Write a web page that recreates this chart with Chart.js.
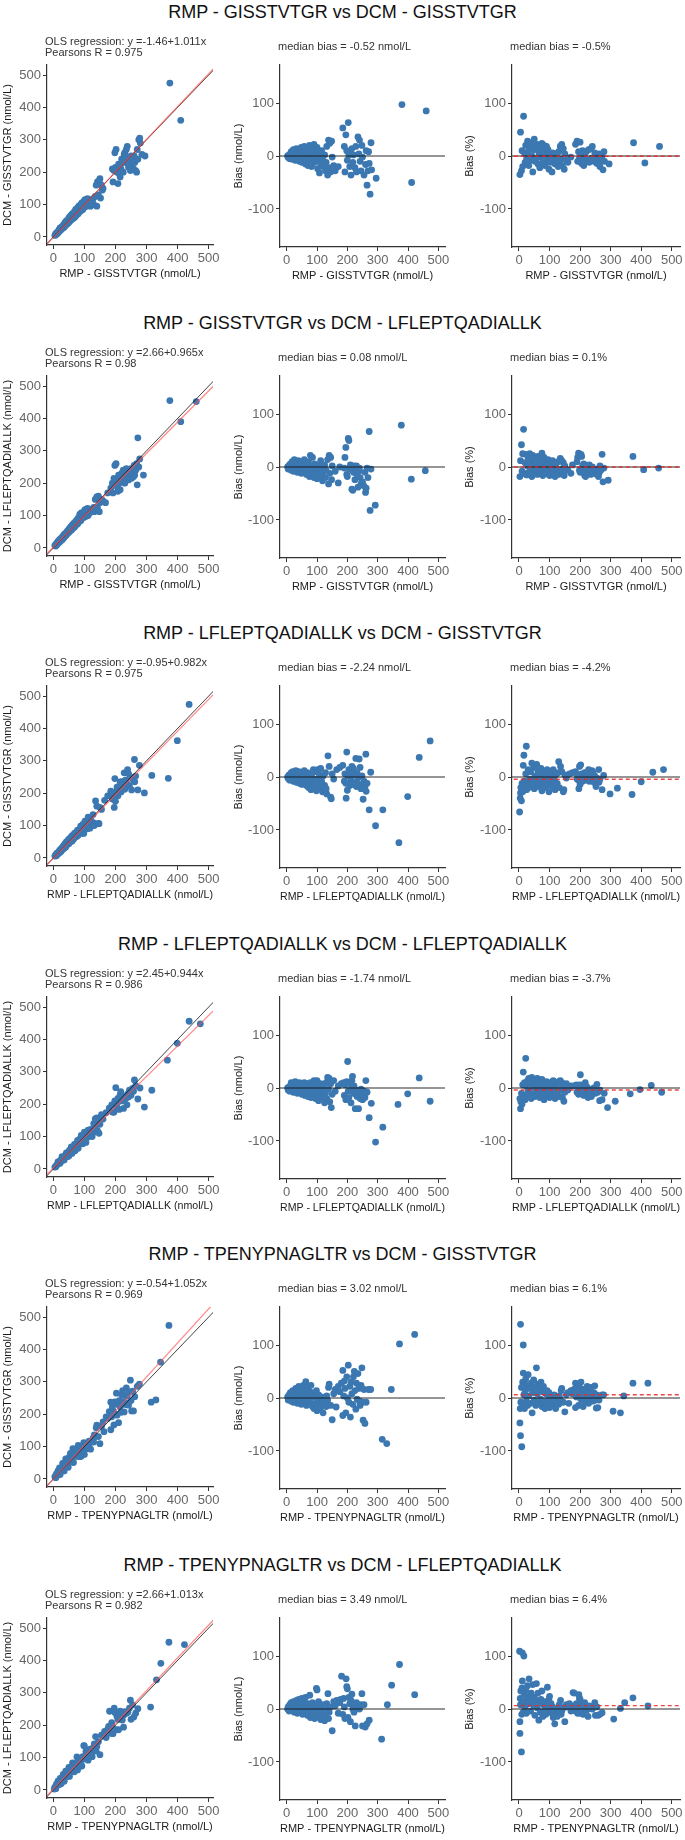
<!DOCTYPE html>
<html>
<head>
<meta charset="utf-8">
<script src="https://cdn.jsdelivr.net/npm/chart.js@4.4.0/dist/chart.umd.min.js"></script>
<style>
  body { margin: 0; background: #fff; width: 685px; height: 1840px; position: relative;
         font-family: "Liberation Sans", Arial, sans-serif; }
  .ttl { position: absolute; left: 0; width: 685px; text-align: center; font-size: 18px;
         line-height: 20px; color: #111; }
  canvas { position: absolute; }
</style>
</head>
<body>
<script>
// peptide names per row
const rmpNames = ['GISSTVTGR', 'GISSTVTGR', 'LFLEPTQADIALLK', 'LFLEPTQADIALLK', 'TPENYPNAGLTR', 'TPENYPNAGLTR'];
const dcmNames = ['GISSTVTGR', 'LFLEPTQADIALLK', 'GISSTVTGR', 'LFLEPTQADIALLK', 'GISSTVTGR', 'LFLEPTQADIALLK'];
const olsA = ['-1.46', '2.66', '-0.95', '2.45', '-0.54', '2.66'];
const olsB = ['1.011', '0.965', '0.982', '0.944', '1.052', '1.013'];
const pearsonR = ['0.975', '0.98', '0.975', '0.986', '0.969', '0.982'];
const medAbs = [-0.52, 0.08, -2.24, -1.74, 3.02, 3.49];
const medPct = [-0.5, 0.1, -4.2, -3.7, 6.1, 6.4];
const xTicks = [0, 100, 200, 300, 400, 500];
const compTicks = [0, 100, 200, 300, 400, 500];
const biasTicks = [-100, 0, 100];

// row 1
const r1Comp = [[5,5],[8,10],[10,8],[12,14],[15,12],[18,22],[20,18],[22,28],[25,22],[28,32],[30,27],[33,38],[35,30],[38,45],[40,36],[42,50],[45,40],[48,55],[50,45],[52,62],[55,50],[58,68],[60,55],[62,72],[65,58],[68,78],[70,62],[72,85],[75,68],[78,90],[80,72],[82,95],[85,78],[88,100],[90,82],[92,105],[95,85],[98,110],[100,92],[102,115],[105,95],[108,100],[110,118],[112,96],[115,105],[118,112],[120,95],[125,108],[128,118],[130,100],[135,125],[138,160],[140,95],[142,170],[145,130],[148,175],[150,180],[152,120],[155,160],[160,150],[158,145],[190,210],[192,170],[195,205],[198,260],[200,215],[202,270],[205,200],[208,165],[210,225],[212,195],[215,185],[218,210],[220,240],[222,230],[225,200],[228,255],[230,260],[232,230],[235,270],[238,280],[240,245],[242,215],[245,235],[248,205],[250,250],[252,225],[255,240],[258,210],[260,250],[262,230],[265,205],[268,200],[270,270],[272,240],[275,300],[278,305],[280,290],[285,255],[295,250],[375,475],[410,360]];
const r1Bias = [[3,0],[5,-3],[8,2],[10,-5],[12,4],[15,8],[18,-6],[20,3],[22,12],[25,-2],[28,-8],[30,6],[32,14],[35,-4],[38,2],[40,10],[42,-10],[45,5],[48,16],[50,-12],[52,0],[55,8],[58,18],[60,-6],[62,-15],[65,4],[68,12],[70,-18],[72,2],[75,20],[78,-8],[80,6],[82,-20],[85,14],[88,-4],[90,22],[92,-12],[95,8],[98,-2],[100,16],[102,-24],[105,-8],[108,-32],[110,4],[112,-14],[115,10],[118,-6],[120,-20],[125,2],[128,-28],[130,-12],[132,18],[135,-36],[138,30],[140,-22],[142,24],[145,-30],[148,28],[150,-2],[155,-18],[160,-28],[170,-20],[185,53],[190,18],[192,-30],[195,40],[198,10],[200,-8],[203,63],[205,2],[208,-20],[210,8],[212,-36],[215,14],[218,-12],[220,2],[225,-22],[228,18],[230,-30],[235,36],[238,4],[240,30],[242,-10],[245,-28],[248,20],[250,-2],[255,-36],[260,-16],[262,10],[265,-55],[268,-28],[270,8],[272,-14],[275,-72],[278,25],[280,-26],[295,-42],[380,97],[460,85],[412,-50]];
const r1Pct = [[3,-35],[5,45],[8,-28],[10,10],[12,-20],[15,75],[18,5],[20,-12],[22,20],[25,-5],[28,28],[30,8],[32,-18],[35,15],[38,-8],[40,25],[42,0],[45,-30],[48,12],[50,32],[52,-10],[55,18],[58,-4],[60,22],[62,-15],[65,6],[68,-22],[70,14],[72,-2],[75,24],[78,-12],[80,8],[82,20],[85,-18],[88,2],[90,18],[92,-8],[95,12],[98,-25],[100,4],[102,-12],[105,-2],[108,-30],[110,6],[112,-8],[115,2],[118,-15],[120,-4],[125,5],[128,-20],[130,8],[132,-12],[135,18],[138,-6],[140,22],[142,-18],[145,14],[148,-25],[150,4],[155,-8],[160,-12],[170,-2],[185,22],[190,28],[192,-10],[195,8],[198,-4],[200,26],[203,2],[205,-14],[208,10],[210,-6],[212,-18],[215,4],[218,-10],[220,8],[225,-8],[228,12],[230,-12],[235,14],[238,-4],[240,18],[242,-6],[245,-10],[248,6],[250,-2],[255,-14],[260,-6],[262,4],[265,-20],[268,-10],[270,2],[272,-5],[275,-26],[278,8],[280,-10],[295,-15],[375,25],[460,18],[412,-13]];

// row 2
const r2Comp = [[5,8],[8,6],[10,14],[12,10],[15,20],[18,16],[20,26],[22,20],[25,30],[28,25],[30,36],[33,30],[35,42],[38,36],[40,46],[42,40],[45,52],[48,46],[50,58],[52,50],[55,64],[58,55],[60,70],[62,60],[65,75],[68,64],[70,80],[72,70],[75,86],[78,74],[80,92],[82,80],[85,104],[88,84],[90,108],[92,90],[95,100],[98,112],[100,95],[102,118],[105,98],[108,104],[110,122],[112,100],[115,108],[118,114],[120,110],[125,120],[128,116],[130,125],[132,112],[135,150],[138,118],[140,158],[142,125],[145,160],[148,112],[150,140],[155,150],[160,145],[168,140],[175,170],[185,185],[190,200],[192,170],[195,215],[198,255],[200,210],[202,260],[205,190],[208,175],[210,225],[212,200],[215,180],[218,215],[220,230],[222,205],[225,240],[228,220],[230,200],[232,235],[235,245],[238,225],[240,215],[242,210],[245,225],[248,235],[250,245],[252,215],[255,230],[258,220],[260,255],[262,225],[265,240],[268,260],[270,195],[272,340],[275,250],[278,275],[290,225],[375,455],[410,390],[460,452]];
const r2Bias = [[3,0],[5,-4],[8,3],[10,-2],[12,6],[15,-6],[18,10],[20,2],[22,-8],[25,14],[28,4],[30,-4],[32,8],[35,-10],[38,12],[40,0],[42,-6],[45,6],[48,-12],[50,10],[52,2],[55,-8],[58,14],[60,-4],[62,8],[65,-14],[68,4],[70,-6],[72,10],[75,-18],[78,22],[80,2],[82,-10],[85,18],[88,-4],[90,-20],[92,6],[95,-12],[98,0],[100,-22],[105,-8],[108,4],[110,-16],[112,12],[115,-2],[118,-26],[120,-10],[125,4],[128,-20],[130,-6],[135,14],[138,-32],[140,22],[142,-12],[145,18],[148,-24],[150,2],[160,-8],[170,-30],[175,0],[190,-2],[192,18],[195,37],[198,-14],[200,-18],[203,54],[205,50],[208,-4],[210,4],[212,0],[215,-42],[218,-44],[220,-10],[222,2],[225,-24],[228,-4],[230,2],[232,-14],[235,-38],[238,-8],[240,-2],[242,-20],[245,-32],[250,-28],[255,-36],[258,-10],[260,-48],[262,-40],[265,-2],[268,-20],[272,67],[275,-82],[278,-4],[292,-72],[378,79],[411,-23],[457,-7]];
const r2Pct = [[3,-18],[5,12],[8,42],[10,-8],[12,25],[15,71],[18,-12],[20,8],[22,24],[25,-15],[28,2],[30,18],[32,-10],[35,25],[38,-4],[40,12],[42,-18],[45,22],[48,4],[50,-12],[52,16],[55,-6],[58,10],[60,-14],[62,20],[65,2],[68,-10],[70,14],[72,-4],[75,26],[78,-16],[80,6],[82,18],[85,-8],[88,10],[90,-12],[92,2],[95,14],[98,-6],[100,-16],[105,6],[108,-4],[110,12],[112,-10],[115,-2],[118,-18],[120,4],[125,-8],[128,10],[130,-14],[135,16],[138,-4],[140,12],[142,-8],[145,8],[148,-16],[150,2],[160,-6],[170,-12],[175,4],[190,10],[192,18],[195,26],[198,-6],[200,-10],[203,24],[205,20],[208,2],[210,-4],[212,6],[215,-16],[218,-18],[220,-6],[222,2],[225,-10],[228,-2],[230,4],[232,-8],[235,-14],[238,-4],[240,0],[242,-10],[245,-12],[250,-8],[255,-14],[258,-4],[260,-18],[262,-12],[265,2],[268,-6],[272,24],[275,-28],[278,-2],[292,-25],[373,20],[408,-5],[457,-2]];

// row 3
const r3Comp = [[5,6],[8,10],[10,7],[12,15],[15,12],[18,20],[20,16],[22,26],[25,20],[28,32],[30,26],[33,38],[35,30],[38,44],[40,34],[42,50],[45,42],[48,56],[50,44],[52,60],[55,50],[58,66],[60,52],[62,70],[65,58],[68,76],[70,64],[72,78],[75,66],[78,86],[80,70],[82,84],[85,78],[88,98],[90,76],[92,88],[95,104],[98,76],[100,94],[102,114],[105,92],[108,110],[110,90],[112,126],[115,106],[118,92],[120,120],[125,110],[128,134],[130,108],[132,100],[136,176],[140,160],[145,107],[147,106],[150,156],[155,150],[165,178],[175,192],[185,206],[190,182],[192,198],[195,183],[198,245],[200,175],[196,156],[202,204],[205,219],[208,192],[210,220],[212,206],[215,235],[218,204],[220,236],[222,226],[225,215],[228,263],[230,212],[232,240],[235,233],[239,273],[240,226],[242,260],[245,223],[248,250],[252,210],[255,247],[258,240],[261,304],[262,235],[265,253],[272,210],[277,286],[293,201],[317,255],[370,246],[399,362],[437,474]];
const r3Bias = [[3,0],[5,-3],[8,4],[10,-6],[12,2],[15,8],[18,-4],[20,10],[22,-8],[25,4],[28,-2],[30,12],[32,-10],[35,6],[38,-6],[40,10],[42,-12],[45,2],[48,8],[50,-14],[52,4],[55,-6],[58,12],[60,-10],[62,2],[65,-16],[68,8],[70,-4],[72,-20],[75,6],[78,-12],[80,-24],[82,2],[85,-8],[88,14],[90,-18],[92,-4],[95,10],[98,-26],[100,-6],[102,14],[105,-14],[108,4],[110,-20],[112,16],[115,-8],[118,-28],[120,2],[125,-16],[128,8],[130,-22],[132,-32],[136,40],[140,20],[145,-38],[147,-41],[150,6],[155,-4],[165,14],[175,18],[185,22],[190,-8],[192,6],[195,-12],[198,47],[200,-25],[196,-40],[202,2],[205,14],[208,-16],[210,10],[212,-6],[215,20],[218,-14],[220,16],[222,4],[225,-10],[228,35],[230,-18],[232,8],[235,-2],[239,34],[240,-14],[242,18],[245,-22],[248,2],[252,-42],[255,-8],[258,-18],[261,43],[262,-27],[265,-12],[272,-62],[277,9],[293,-92],[317,-62],[370,-124],[399,-37],[437,37],[473,68]];
const r3Pct = [[2,-66],[4,-40],[5,-30],[6,-20],[8,-45],[10,-12],[12,-28],[14,22],[16,41],[18,-8],[20,-18],[22,6],[24,58],[25,-24],[28,-10],[30,14],[32,-20],[35,-4],[38,10],[40,-16],[42,26],[45,-6],[48,18],[50,-22],[52,2],[55,-12],[58,24],[60,-8],[62,12],[65,-18],[68,4],[70,-10],[72,16],[75,-26],[78,-4],[80,-14],[82,8],[85,-20],[88,2],[90,-8],[92,14],[95,-16],[98,-28],[100,-4],[102,10],[105,-12],[108,2],[110,-18],[112,14],[115,-6],[118,-24],[120,4],[125,-12],[128,8],[130,29],[132,-20],[136,20],[140,10],[145,-28],[147,-24],[150,4],[155,-2],[165,6],[175,8],[185,10],[190,-4],[192,4],[195,-6],[198,20],[200,-14],[202,23],[196,-22],[205,6],[208,-8],[210,4],[212,-2],[215,8],[218,-6],[220,8],[222,2],[225,-4],[228,14],[230,-8],[232,4],[235,0],[239,12],[240,-6],[242,8],[245,-10],[248,2],[252,-18],[255,-2],[258,-8],[261,14],[262,-10],[265,-4],[272,-24],[277,3],[298,-32],[322,-21],[370,-33],[400,-9],[438,9],[473,14]];

// row 4
const r4Comp = [[5,6],[8,7],[10,11],[12,13],[15,22],[18,17],[20,24],[22,18],[25,28],[28,38],[30,27],[32,36],[35,28],[38,42],[40,38],[42,50],[45,38],[48,51],[50,40],[52,58],[55,52],[58,68],[60,48],[62,64],[65,58],[68,76],[70,56],[72,76],[75,70],[78,88],[80,64],[82,80],[85,92],[88,78],[90,104],[92,88],[95,78],[98,100],[100,114],[102,94],[105,82],[108,112],[110,98],[112,120],[115,110],[118,102],[120,122],[125,100],[128,118],[130,140],[132,114],[135,155],[138,136],[140,158],[142,118],[145,152],[147,110],[150,138],[155,168],[160,154],[170,174],[180,188],[188,198],[190,176],[192,198],[195,175],[198,210],[201,251],[203,197],[205,187],[208,218],[210,208],[212,184],[215,229],[217,239],[220,210],[222,226],[226,187],[228,216],[230,226],[232,216],[237,198],[240,232],[242,222],[245,243],[248,234],[250,228],[255,249],[258,240],[261,275],[265,257],[272,216],[279,250],[293,191],[317,243],[367,336],[399,388],[437,456],[473,448]];
const r4Bias = [[3,0],[5,-4],[8,2],[10,-6],[12,4],[15,10],[18,-2],[20,6],[22,-8],[25,2],[28,12],[30,-4],[32,6],[35,-10],[38,4],[40,-2],[42,10],[45,-8],[48,2],[50,-12],[52,6],[55,-4],[58,10],[60,-14],[62,2],[65,-8],[68,8],[70,-16],[72,4],[75,-6],[78,10],[80,-18],[82,-2],[85,6],[88,-12],[90,14],[92,-4],[95,-20],[98,2],[100,14],[102,-10],[105,-24],[108,4],[110,-14],[112,8],[115,-6],[118,-18],[120,2],[125,-28],[128,-10],[130,10],[132,-20],[135,20],[138,-2],[140,18],[142,-26],[145,8],[147,-37],[150,-12],[155,14],[160,-6],[170,4],[180,8],[188,10],[190,-14],[192,6],[195,-22],[198,12],[201,50],[203,-6],[205,-18],[208,10],[210,-2],[212,-28],[215,14],[217,22],[220,-10],[222,4],[226,-39],[228,-12],[230,-4],[232,-16],[237,-39],[240,-8],[242,-20],[245,-2],[248,-14],[250,-22],[255,-6],[258,-18],[261,14],[265,-8],[272,-56],[279,-29],[293,-102],[317,-74],[367,-31],[399,-11],[437,19],[473,-25]];
const r4Pct = [[3,-20],[5,-39],[6,-26],[8,-10],[10,-30],[12,6],[14,30],[16,-14],[18,10],[20,-22],[22,56],[24,4],[26,-16],[28,14],[30,-6],[32,18],[35,-12],[38,8],[40,-20],[42,20],[45,2],[48,-10],[50,14],[52,-16],[55,6],[58,-6],[60,18],[62,-12],[65,4],[68,-18],[70,10],[72,-4],[75,16],[78,-14],[80,2],[82,-22],[85,8],[88,-8],[90,12],[92,-16],[95,-4],[98,10],[100,-18],[102,2],[105,-10],[108,6],[110,-14],[112,14],[115,-4],[118,-20],[120,2],[125,-12],[128,8],[130,12],[132,-16],[135,14],[138,-4],[140,10],[142,-18],[145,4],[147,-25],[150,-8],[155,8],[160,-4],[170,4],[180,4],[188,6],[190,-8],[192,4],[195,-12],[198,6],[201,25],[203,-4],[205,-10],[208,6],[210,-2],[212,-14],[215,6],[217,10],[220,-6],[222,2],[226,-18],[228,-6],[230,-2],[232,-8],[237,-16],[240,-4],[242,-8],[245,0],[248,-6],[250,-10],[255,7],[258,-8],[264,-24],[265,-4],[272,-22],[279,-10],[290,-37],[315,-25],[364,-11],[396,-3],[433,5],[467,-8]];

// row 5
const r5Comp = [[5,7],[8,4],[10,16],[12,10],[15,25],[18,14],[20,34],[22,14],[25,33],[28,26],[30,48],[32,34],[35,25],[38,50],[40,62],[42,38],[45,53],[48,36],[50,66],[52,56],[55,79],[58,52],[60,70],[63,94],[65,51],[68,74],[70,90],[72,70],[75,87],[78,70],[80,104],[82,86],[85,69],[88,98],[90,70],[92,94],[95,85],[98,112],[100,76],[102,98],[105,111],[108,94],[110,108],[112,94],[115,117],[118,112],[120,92],[125,115],[128,126],[130,114],[132,136],[135,131],[138,158],[140,166],[145,131],[150,109],[155,163],[160,176],[163,146],[170,192],[175,187],[180,208],[185,237],[185,152],[188,192],[190,222],[192,210],[195,167],[198,238],[200,200],[203,265],[205,197],[208,230],[210,174],[212,242],[215,223],[218,206],[220,260],[223,273],[225,239],[228,207],[230,258],[232,230],[235,281],[238,256],[240,234],[242,228],[245,269],[248,305],[250,242],[252,210],[255,271],[258,210],[262,254],[270,286],[277,293],[315,237],[330,244],[345,361],[372,474]];
const r5Bias = [[3,2],[5,-4],[8,6],[10,-2],[12,10],[15,-6],[18,4],[20,14],[22,-8],[25,8],[28,-2],[30,18],[32,2],[35,-10],[38,12],[40,22],[42,-4],[45,8],[48,-12],[50,16],[52,4],[55,24],[58,-6],[60,10],[63,31],[65,-14],[68,6],[70,20],[72,-2],[75,12],[78,-8],[80,24],[82,4],[85,-16],[88,10],[90,-20],[92,2],[95,-10],[98,14],[100,-24],[102,-4],[105,6],[108,-14],[110,-2],[112,-18],[115,2],[118,-6],[120,-28],[125,-10],[128,-2],[130,-16],[132,4],[135,-4],[138,20],[140,26],[145,-14],[150,-41],[155,8],[160,16],[163,-17],[170,22],[175,12],[180,28],[185,52],[185,-33],[188,4],[190,32],[192,18],[195,-28],[198,40],[200,0],[203,62],[205,-8],[208,22],[210,-36],[212,30],[215,8],[218,-12],[220,40],[223,50],[225,14],[228,-21],[230,28],[232,-2],[235,46],[238,18],[240,-6],[242,-14],[245,24],[248,57],[250,-8],[252,-42],[255,16],[258,-48],[262,-8],[270,16],[277,16],[315,-78],[330,-86],[345,16],[372,102],[422,120]];
const r5Pct = [[3,-47],[4,-20],[5,139],[5,-71],[6,-8],[8,20],[9,-92],[10,-12],[12,30],[14,100],[14,47],[16,6],[18,-20],[20,14],[22,36],[24,-6],[26,24],[28,-14],[30,44],[32,4],[35,18],[38,-10],[40,28],[43,-28],[45,10],[48,34],[50,-4],[52,20],[55,-14],[57,57],[60,8],[62,26],[65,-10],[68,16],[70,-2],[72,30],[75,-16],[78,12],[80,22],[82,-6],[85,-20],[88,8],[90,-12],[92,14],[95,-4],[98,10],[100,-18],[102,2],[105,-8],[108,4],[110,-14],[112,-2],[115,6],[118,-10],[120,-20],[125,-6],[128,2],[130,-12],[132,4],[135,-2],[138,14],[140,18],[145,-8],[150,-26],[155,6],[160,10],[163,-10],[170,14],[175,8],[180,16],[185,28],[185,-18],[188,2],[190,18],[192,10],[195,-14],[198,20],[200,0],[203,30],[205,-4],[208,12],[210,-16],[212,16],[215,4],[218,-6],[220,18],[223,22],[225,6],[228,-10],[230,12],[232,-2],[235,20],[238,8],[240,-2],[242,-6],[245,10],[248,23],[250,-4],[253,-19],[255,6],[258,-18],[262,-4],[272,6],[277,6],[308,-25],[332,-28],[343,4],[373,28],[422,28]];

// row 6
const r6Comp = [[3,3],[5,9],[8,4],[10,18],[12,14],[15,27],[18,16],[20,26],[22,36],[25,19],[28,38],[30,32],[32,48],[35,27],[38,44],[40,58],[42,40],[45,57],[48,52],[50,70],[52,42],[55,63],[58,72],[60,56],[62,84],[65,71],[68,56],[70,80],[72,70],[76,102],[78,62],[80,86],[82,74],[85,97],[88,74],[90,92],[92,74],[95,103],[98,137],[100,136],[102,96],[105,119],[108,96],[110,114],[112,92],[115,113],[118,126],[120,106],[125,103],[128,130],[130,120],[132,142],[136,165],[138,120],[140,134],[145,149],[150,109],[155,169],[160,166],[165,181],[170,162],[175,187],[178,196],[181,243],[185,175],[188,208],[190,194],[192,174],[196,253],[198,240],[200,238],[202,186],[205,227],[208,218],[210,186],[212,228],[215,243],[218,218],[220,222],[222,216],[226,194],[228,232],[230,242],[235,237],[240,240],[245,253],[248,277],[250,218],[255,263],[259,225],[265,237],[272,251],[313,256],[332,340],[346,391],[372,456],[422,449]];
const r6Bias = [[3,0],[5,4],[8,-4],[10,8],[12,2],[15,12],[18,-2],[20,6],[22,14],[25,-6],[28,10],[30,2],[32,16],[35,-8],[38,6],[40,18],[42,-2],[45,12],[48,4],[50,20],[52,-10],[55,8],[58,14],[60,-4],[62,22],[65,6],[68,-12],[70,10],[72,-2],[76,26],[78,-16],[80,6],[82,-8],[85,12],[88,-14],[90,2],[92,-18],[95,8],[98,39],[100,36],[102,-6],[105,14],[108,-12],[110,4],[112,-20],[115,-2],[118,8],[120,-14],[125,-22],[128,2],[130,-10],[132,10],[136,29],[138,-18],[140,-6],[145,4],[150,-41],[155,14],[160,6],[165,16],[170,-8],[175,12],[178,18],[181,62],[185,-10],[188,20],[190,4],[192,-18],[196,57],[198,42],[200,38],[202,-16],[205,22],[208,10],[210,-24],[212,16],[215,28],[218,0],[220,2],[222,-6],[226,-32],[228,4],[230,12],[235,2],[240,0],[245,8],[248,29],[250,-32],[255,8],[259,-34],[265,-28],[272,-21],[313,-57],[332,8],[346,45],[372,84],[422,27]];
const r6Pct = [[2,109],[3,-24],[3,-46],[4,20],[5,8],[6,34],[8,-81],[9,-10],[10,40],[11,106],[11,53],[12,14],[14,-6],[16,100],[18,28],[20,4],[22,36],[24,-8],[26,20],[28,44],[30,10],[33,57],[35,24],[38,-4],[40,30],[42,14],[45,46],[48,6],[50,22],[52,-12],[55,16],[57,48],[60,2],[62,30],[65,-21],[68,12],[70,-6],[72,18],[75,34],[78,-14],[80,8],[82,-4],[85,14],[88,-10],[90,4],[93,41],[95,8],[98,18],[100,24],[102,-4],[105,10],[108,-8],[110,4],[112,-16],[115,-2],[117,-28],[120,-10],[125,-14],[128,2],[130,-6],[132,8],[136,16],[138,-10],[140,-4],[145,2],[150,-24],[155,8],[160,4],[165,10],[170,-4],[175,6],[177,31],[181,30],[185,-4],[188,10],[190,2],[192,-8],[196,27],[198,20],[200,18],[202,-8],[205,10],[208,4],[210,-10],[212,8],[215,12],[218,0],[220,2],[222,-2],[226,-14],[228,2],[230,6],[235,1],[240,0],[245,4],[248,12],[250,-12],[255,4],[259,-12],[265,-10],[272,-7],[310,-19],[332,1],[346,12],[373,21],[422,6]];

const rows = [
  [r1Comp, r1Bias, r1Pct], [r2Comp, r2Bias, r2Pct], [r3Comp, r3Bias, r3Pct],
  [r4Comp, r4Bias, r4Pct], [r5Comp, r5Bias, r5Pct], [r6Comp, r6Bias, r6Pct]
];

Chart.defaults.font.family = '"Liberation Sans", Arial, sans-serif';
const PT = '#3b77b0';

// text above each panel, left aligned on the plot area
const notePlugin = {
  id: 'note',
  afterDraw(chart, args, opts) {
    const ctx = chart.ctx;
    ctx.save();
    ctx.font = '11px "Liberation Sans", Arial, sans-serif';
    ctx.fillStyle = '#333';
    ctx.textBaseline = 'middle';
    opts.lines.forEach((t, i) => ctx.fillText(t, chart.chartArea.left - 2, opts.y[i]));
    ctx.restore();
  }
};

function axis(min, max, ticks, title, size, horiz) {
  return {
    type: 'linear', min: min, max: max,
    afterBuildTicks: s => { s.ticks = ticks.map(v => ({ value: v })); },
    afterFit: s => { if (horiz) s.height = size; else s.width = size; },
    grid: { drawOnChartArea: false, drawTicks: true, tickLength: 4, color: '#333', lineWidth: 1 },
    border: { display: true, color: '#333', width: 1.2 },
    ticks: { font: { size: 13 }, color: '#666', padding: 2, maxRotation: 0, autoSkip: false },
    title: { display: true, text: title, font: { size: 11 }, color: '#1a1a1a',
             padding: horiz ? { top: 0, bottom: 2 } : { top: 1, bottom: 0 } }
  };
}

const pts = a => a.map(p => ({ x: p[0], y: p[1] }));
const lineDs = (data, color, width, dash) => ({
  data: data, showLine: true, borderColor: color, borderWidth: width,
  borderDash: dash || [], pointRadius: 0, fill: false
});
const dotDs = a => ({ data: pts(a), backgroundColor: PT, borderWidth: 0, pointRadius: 3.4, showLine: false });

function panel(left, top, w, h, yW, padR, xr, yr, yTicks, xTitle, yTitle, datasets, note) {
  const c = document.createElement('canvas');
  c.width = w; c.height = h;
  c.style.left = left + 'px'; c.style.top = top + 'px';
  document.body.appendChild(c);
  new Chart(c, {
    type: 'scatter',
    data: { datasets: datasets },
    options: {
      responsive: false, animation: false, events: [],
      layout: { padding: { top: 35, right: padR, left: 0, bottom: 0 } },
      plugins: { legend: { display: false }, tooltip: { enabled: false }, note: note },
      scales: {
        x: axis(xr[0], xr[1], xTicks, xTitle, 38, true),
        y: axis(yr[0], yr[1], yTicks, yTitle, yW, false)
      }
    },
    plugins: [notePlugin]
  });
}

rows.forEach((r, k) => {
  const T = Math.round(k * 310.6);
  const t = document.createElement('div');
  t.className = 'ttl';
  t.style.top = (T + 2) + 'px';
  t.textContent = 'RMP - ' + rmpNames[k] + ' vs DCM - ' + dcmNames[k];
  document.body.appendChild(t);

  const xTitle = 'RMP - ' + rmpNames[k] + ' (nmol/L)';
  const a = parseFloat(olsA[k]), b = parseFloat(olsB[k]);

  panel(0, T + 30, 225, 253, 47, 12, [-20.3, 513.8], [-24.7, 530.9], compTicks,
    xTitle, 'DCM - ' + dcmNames[k] + ' (nmol/L)',
    [
      lineDs([{ x: -40, y: a - 40 * b }, { x: 560, y: a + 560 * b }], 'rgba(255,80,80,0.65)', 1.3),
      lineDs([{ x: -40, y: -40 }, { x: 560, y: 560 }], 'rgba(20,20,20,0.8)', 1),
      dotDs(r[0])
    ],
    { lines: ['OLS regression: y =' + olsA[k] + '+' + olsB[k] + 'x', 'Pearsons R = ' + pearsonR[k]], y: [12, 23] });

  panel(231, T + 30, 226, 255, 49, 12, [-22.1, 522], [-171.7, 171.7], biasTicks,
    xTitle, 'Bias (nmol/L)',
    [
      lineDs([{ x: -40, y: 0 }, { x: 560, y: 0 }], 'rgba(20,20,20,0.9)', 1.2),
      dotDs(r[1])
    ],
    { lines: ['median bias = ' + medAbs[k].toFixed(2) + ' nmol/L'], y: [17] });

  panel(462, T + 30, 223, 255, 50, 5, [-22.9, 527], [-171.7, 171.7], biasTicks,
    xTitle, 'Bias (%)',
    [
      lineDs([{ x: -40, y: medPct[k] }, { x: 560, y: medPct[k] }], 'rgba(230,40,40,0.85)', 1.4, [4, 3]),
      lineDs([{ x: -40, y: 0 }, { x: 560, y: 0 }], 'rgba(20,20,20,0.9)', 1.2),
      dotDs(r[2])
    ],
    { lines: ['median bias = ' + medPct[k].toFixed(1) + '%'], y: [17] });
});
</script>
</body>
</html>
